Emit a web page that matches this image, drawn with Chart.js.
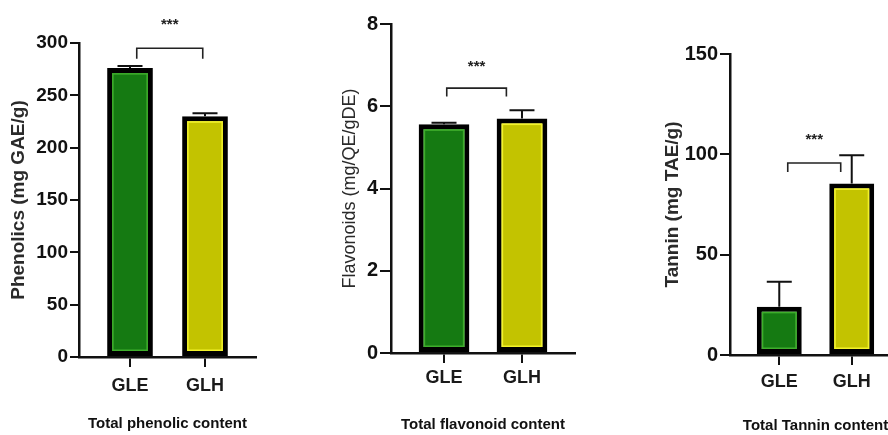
<!DOCTYPE html>
<html>
<head>
<meta charset="utf-8">
<script src="https://cdn.jsdelivr.net/npm/chart.js@4.4.1/dist/chart.umd.min.js"></script>
<style>
  html, body { margin: 0; padding: 0; background: #fff; }
  body { width: 888px; height: 435px; overflow: hidden; position: relative; }
  .panel { position: absolute; top: 0; height: 435px; }
  .panel canvas { display: block; }
</style>
</head>
<body>
<div class="panel" id="p1" style="left:0px;width:290px"><canvas id="c1"></canvas></div>
<div class="panel" id="p2" style="left:290px;width:300px"><canvas id="c2"></canvas></div>
<div class="panel" id="p3" style="left:600px;width:320px"><canvas id="c3"></canvas></div>
<script>
// ---- data (mean and SD per group)
const categories = ["GLE", "GLH"];

const phenolicMean = [276, 230];
const phenolicSd = [2, 3];
const phenolicTicks = [0, 50, 100, 150, 200, 250, 300];

const flavonoidMean = [5.56, 5.7];
const flavonoidSd = [0.04, 0.2];
const flavonoidTicks = [0, 2, 4, 6, 8];

const tanninMean = [24, 85.5];
const tanninSd = [12.5, 14];
const tanninTicks = [0, 50, 100, 150];

const significance = ["***", "***", "***"];

// colours
const fillColors = ["#157a12", "#c3c300"];
const innerColors = ["#3fae2c", "#f2f22a"];

var sans = "'Liberation Sans', Arial, sans-serif";

// ---- plugin: inner light edge on bars, error bars and significance bracket
const extrasPlugin = {
  id: "extras",
  afterDatasetsDraw(chart, args, opts) {
    const ctx = chart.ctx;
    const yScale = chart.scales.y;
    const xScale = chart.scales.x;
    const meta = chart.getDatasetMeta(0);
    ctx.save();
    meta.data.forEach((bar, i) => {
      const p = bar.getProps(["x", "y", "base", "width"], true);
      const bw = opts.border;
      const left = p.x - p.width / 2 + bw;
      const top = p.y + bw;
      const w = p.width - 2 * bw;
      const h = p.base - p.y - 2 * bw;
      ctx.strokeStyle = innerColors[i];
      ctx.lineWidth = 1.5;
      ctx.strokeRect(left + 0.75, top + 0.75, w - 1.5, h - 1.5);

      // error bar (mean -> mean + SD)
      const y0 = yScale.getPixelForValue(opts.mean[i]);
      const y1 = yScale.getPixelForValue(opts.mean[i] + opts.sd[i]);
      ctx.strokeStyle = "#111";
      ctx.lineWidth = 2;
      ctx.beginPath();
      ctx.moveTo(p.x, y0);
      ctx.lineTo(p.x, y1);
      ctx.moveTo(p.x - opts.cap / 2, y1);
      ctx.lineTo(p.x + opts.cap / 2, y1);
      ctx.stroke();
    });

    // significance bracket
    const b = opts.bracket;
    const xa = xScale.getPixelForValue(b.from);
    const xb = xScale.getPixelForValue(b.to);
    const yl = yScale.getPixelForValue(b.level);
    const yg = yScale.getPixelForValue(b.leg);
    ctx.strokeStyle = "#222";
    ctx.lineWidth = 1.6;
    ctx.beginPath();
    ctx.moveTo(xa, yg);
    ctx.lineTo(xa, yl);
    ctx.lineTo(xb, yl);
    ctx.lineTo(xb, yg);
    ctx.stroke();
    ctx.fillStyle = "#222";
    ctx.font = "bold 15px " + sans;
    ctx.textAlign = "center";
    ctx.textBaseline = "middle";
    ctx.fillText(b.text, (xa + xb) / 2, yScale.getPixelForValue(b.textAt));
    ctx.restore();
  }
};

function makeChart(canvasId, p) {
  var data = categories.map((c, i) => ({ x: i, y: p.mean[i] }));
  return new Chart(document.getElementById(canvasId), {
    type: "bar",
    data: {
      datasets: [{
        data: data,
        backgroundColor: fillColors,
        borderColor: "#000",
        borderWidth: p.border,
        borderSkipped: false,
        barPercentage: p.barPct,
        categoryPercentage: 1
      }]
    },
    plugins: [extrasPlugin],
    options: {
      responsive: true,
      maintainAspectRatio: false,
      animation: false,
      events: [],
      layout: { padding: { left: 0, top: p.area.top, right: p.width - p.area.right, bottom: 0 } },
      plugins: {
        legend: { display: false },
        tooltip: { enabled: false },
        extras: { mean: p.mean, sd: p.sd, cap: 25, border: p.border, bracket: p.bracket }
      },
      scales: {
        x: {
          type: "linear",
          offset: false,
          min: -0.68,
          max: 1.68,
          afterBuildTicks: s => { s.ticks = categories.map((c, i) => ({ value: i })); },
          afterFit: s => { s.height = 435 - p.area.bottom; },
          border: { display: true, color: "#111", width: 2.5 },
          grid: { offset: false, drawOnChartArea: false, drawTicks: true, tickLength: 10, color: "#111", lineWidth: 2 },
          ticks: {
            padding: p.xLabelPad,
            color: "#1a1a1a",
            font: { family: sans, size: 18, weight: "bold" },
            callback: v => categories[v]
          },
          title: {
            display: true,
            text: p.xTitle,
            color: "#111",
            font: { family: sans, size: 15, weight: "bold" },
            padding: { top: 0, bottom: p.xTitlePad }
          }
        },
        y: {
          min: p.ticks[0],
          max: p.ticks[p.ticks.length - 1],
          afterBuildTicks: s => { s.ticks = p.ticks.map(v => ({ value: v })); },
          afterFit: s => { s.width = p.area.left; },
          border: { display: true, color: "#111", width: 2.5 },
          grid: { drawOnChartArea: false, drawTicks: true, tickLength: p.yTickLen, color: "#111", lineWidth: 2 },
          ticks: {
            padding: 2,
            color: "#111",
            font: { family: sans, size: p.yTickSize, weight: "bold" }
          },
          title: {
            display: true,
            text: p.yTitle,
            color: "#2a2a2a",
            font: { family: sans, size: p.yTitleSize, weight: p.yTitleWeight },
            padding: { top: p.yTitlePad, bottom: 0 }
          }
        }
      }
    }
  });
}

// Total phenolic content
makeChart("c1", {
  width: 290, area: { left: 79, right: 256, top: 43, bottom: 357 },
  mean: phenolicMean, sd: phenolicSd, ticks: phenolicTicks,
  border: 5, barPct: 0.61, yTickLen: 9, yTickSize: 19, xLabelPad: 8, xTitlePad: 2,
  yTitle: "Phenolics (mg GAE/g)", yTitleSize: 19, yTitleWeight: "bold", yTitlePad: 7,
  xTitle: "Total phenolic content",
  bracket: { from: 0.09, to: 0.97, level: 295, leg: 285, text: significance[0], textAt: 317 }
});

// Total flavonoid content
makeChart("c2", {
  width: 300, area: { left: 101, right: 285, top: 24, bottom: 353 },
  mean: flavonoidMean, sd: flavonoidSd, ticks: flavonoidTicks,
  border: 5, barPct: 0.65, yTickLen: 11, yTickSize: 20, xLabelPad: 4, xTitlePad: 1,
  yTitle: "Flavonoids (mg/QE/gDE)", yTitleSize: 18, yTitleWeight: "normal", yTitlePad: 49,
  xTitle: "Total flavonoid content",
  bracket: { from: 0.035, to: 0.8, level: 6.44, leg: 6.24, text: significance[1], textAt: 6.95 }
});

// Total Tannin content (right side cut off by the frame)
makeChart("c3", {
  width: 320, area: { left: 130, right: 301, top: 54, bottom: 355 },
  mean: tanninMean, sd: tanninSd, ticks: tanninTicks,
  border: 5, barPct: 0.62, yTickLen: 10, yTickSize: 20, xLabelPad: 6, xTitlePad: 0,
  yTitle: "Tannin (mg TAE/g)", yTitleSize: 19, yTitleWeight: "bold", yTitlePad: 61,
  xTitle: "Total Tannin content",
  bracket: { from: 0.117, to: 0.848, level: 95.7, leg: 91.2, text: significance[2], textAt: 107 }
});
</script>
</body>
</html>
